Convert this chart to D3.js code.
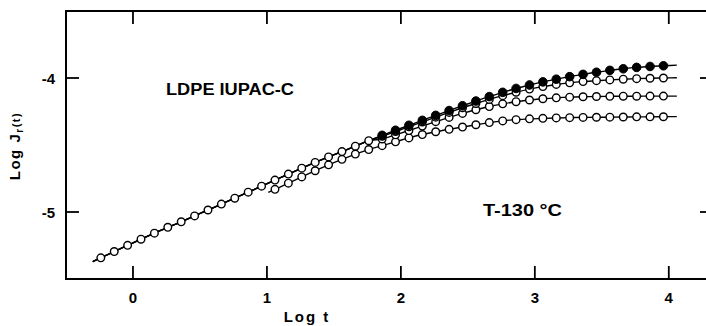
<!DOCTYPE html>
<html>
<head>
<meta charset="utf-8">
<script src="https://cdn.jsdelivr.net/npm/d3@7"></script>
<style>
  html, body { margin: 0; padding: 0; background: #fff; }
  svg { display: block; }
  text { font-family: "Liberation Sans", Arial, sans-serif; font-weight: bold; fill: #000; }
</style>
</head>
<body>
<svg id="chart" width="706" height="326"></svg>
<script>
// Recoverable compliance of LDPE IUPAC-C at 130 °C (log-log)
const xTicks = [0, 1, 2, 3, 4];
const yTicks = [-4, -5];

// shared early branch
const logTCommon = [-0.24, -0.14, -0.04, 0.06, 0.16, 0.26, 0.36, 0.46, 0.56, 0.66, 0.76,
                    0.86, 0.96, 1.06, 1.16, 1.26, 1.36, 1.46, 1.56, 1.66, 1.76];
const logJCommon = [-5.342, -5.295, -5.249, -5.203, -5.158, -5.114, -5.073, -5.029, -4.985, -4.941, -4.897,
                    -4.852, -4.807, -4.762, -4.717, -4.673, -4.630, -4.589, -4.549, -4.509, -4.468];

// late branches
const logTLate = [1.86, 1.96, 2.06, 2.16, 2.26, 2.36, 2.46, 2.56, 2.66, 2.76, 2.86,
                  2.96, 3.06, 3.16, 3.26, 3.36, 3.46, 3.56, 3.66, 3.76, 3.86, 3.96];
const logJA = [-4.428, -4.390, -4.353, -4.316, -4.279, -4.243, -4.207, -4.172, -4.139, -4.107, -4.078,
               -4.052, -4.029, -4.009, -3.990, -3.973, -3.957, -3.943, -3.931, -3.921, -3.914, -3.909];
const logJB = [-4.435, -4.400, -4.364, -4.328, -4.292, -4.257, -4.222, -4.190, -4.160, -4.132, -4.106,
               -4.083, -4.064, -4.048, -4.036, -4.027, -4.020, -4.014, -4.009, -4.005, -4.002, -4.000];
const logJC = [-4.455, -4.424, -4.392, -4.359, -4.326, -4.294, -4.264, -4.237, -4.213, -4.193, -4.177,
               -4.164, -4.155, -4.148, -4.143, -4.140, -4.138, -4.137, -4.136, -4.136, -4.135, -4.135];

// lowest branch, measured separately
const logTD = [1.06, 1.16, 1.26, 1.36, 1.46, 1.56, 1.66, 1.76, 1.86, 1.96, 2.06, 2.16, 2.26, 2.36, 2.46,
               2.56, 2.66, 2.76, 2.86, 2.96, 3.06, 3.16, 3.26, 3.36, 3.46, 3.56, 3.66, 3.76, 3.86, 3.96];
const logJD = [-4.831, -4.785, -4.738, -4.692, -4.648, -4.607, -4.568, -4.534, -4.505, -4.476, -4.447,
               -4.422, -4.401, -4.383, -4.366, -4.349, -4.333, -4.320, -4.311, -4.305, -4.301, -4.298,
               -4.296, -4.294, -4.293, -4.292, -4.291, -4.290, -4.290, -4.289];

const svg = d3.select("#chart");

const x = d3.scaleLinear().domain([-0.5, 4.33]).range([66, 713]);
const y = d3.scaleLinear().domain([-5.5, -3.5]).range([279, 11]);

const zip = (ts, js) => ts.map((t, i) => ({ t, j: js[i] }));
const common = zip(logTCommon, logJCommon);
const seriesA = common.concat(zip(logTLate, logJA));
const seriesB = common.concat(zip(logTLate, logJB));
const seriesC = common.concat(zip(logTLate, logJC));
const seriesD = zip(logTD, logJD);

// extend a curve slightly past its first and last points along the end segments
function extend(pts, lead, trail) {
  const a = pts[0], b = pts[1];
  const n = pts.length, p = pts[n - 2], q = pts[n - 1];
  const s0 = (b.j - a.j) / (b.t - a.t);
  const s1 = (q.j - p.j) / (q.t - p.t);
  return [{ t: a.t - lead, j: a.j - s0 * lead }]
    .concat(pts)
    .concat([{ t: q.t + trail, j: q.j + s1 * trail }]);
}

const line = d3.line().x(d => x(d.t)).y(d => y(d.j)).curve(d3.curveMonotoneX);

const frame = svg.append("g");
// plot frame
frame.append("rect")
  .attr("x", x(-0.5)).attr("y", y(-3.5))
  .attr("width", x(4.33) - x(-0.5)).attr("height", y(-5.5) - y(-3.5))
  .attr("fill", "none").attr("stroke", "#000").attr("stroke-width", 2);

// inward ticks on all four sides
const tickLen = 13;
xTicks.forEach(v => {
  frame.append("line").attr("x1", x(v)).attr("x2", x(v))
    .attr("y1", y(-5.5)).attr("y2", y(-5.5) - tickLen)
    .attr("stroke", "#000").attr("stroke-width", 1.8);
  frame.append("line").attr("x1", x(v)).attr("x2", x(v))
    .attr("y1", y(-3.5)).attr("y2", y(-3.5) + tickLen)
    .attr("stroke", "#000").attr("stroke-width", 1.8);
  frame.append("text").attr("x", x(v)).attr("y", 303)
    .attr("text-anchor", "middle").attr("font-size", 15).text(v);
});
yTicks.forEach(v => {
  frame.append("line").attr("x1", x(-0.5)).attr("x2", x(-0.5) + tickLen)
    .attr("y1", y(v)).attr("y2", y(v))
    .attr("stroke", "#000").attr("stroke-width", 1.8);
  frame.append("line").attr("x1", x(4.33)).attr("x2", x(4.33) - tickLen)
    .attr("y1", y(v)).attr("y2", y(v))
    .attr("stroke", "#000").attr("stroke-width", 1.8);
  frame.append("text").attr("x", 55).attr("y", y(v) + 6)
    .attr("text-anchor", "end").attr("font-size", 15).text(String(v));
});

// axis titles
frame.append("text").attr("x", 307).attr("y", 322)
  .attr("text-anchor", "middle").attr("font-size", 15).attr("letter-spacing", 2)
  .text("Log t");
const yTitle = frame.append("text")
  .attr("transform", "translate(20,146) rotate(-90)")
  .attr("text-anchor", "middle").attr("font-size", 15).attr("letter-spacing", 1.5);
yTitle.append("tspan").text("Log J");
yTitle.append("tspan").attr("font-size", 10).attr("dy", 3).text("r");
yTitle.append("tspan").attr("font-size", 11).attr("dy", -3).text("(t)");

// annotations
frame.append("text").attr("x", 166).attr("y", 95).attr("font-size", 16)
  .attr("textLength", 128).attr("lengthAdjust", "spacingAndGlyphs").text("LDPE IUPAC-C");
frame.append("text").attr("x", 483).attr("y", 216).attr("font-size", 16)
  .attr("textLength", 79).attr("lengthAdjust", "spacingAndGlyphs").text("T-130 °C");

// curves
const curves = svg.append("g").attr("fill", "none").attr("stroke", "#000").attr("stroke-width", 1.4);
[seriesD, seriesC, seriesB, seriesA].forEach(s => {
  const lead = s === seriesD ? 0.05 : 0.06;
  curves.append("path").attr("d", line(extend(s, lead, 0.1)));
});

// markers
const r = 3.8;
function openMarks(data) {
  svg.append("g").selectAll("circle").data(data).join("circle")
    .attr("cx", d => x(d.t)).attr("cy", d => y(d.j)).attr("r", r)
    .attr("fill", "#fff").attr("stroke", "#000").attr("stroke-width", 1.4);
}
openMarks(seriesD);
openMarks(zip(logTLate, logJC));
openMarks(zip(logTLate, logJB));
openMarks(common);
svg.append("g").selectAll("circle").data(zip(logTLate, logJA)).join("circle")
  .attr("cx", d => x(d.t)).attr("cy", d => y(d.j)).attr("r", 4.3)
  .attr("fill", "#000").attr("stroke", "#000").attr("stroke-width", 1);
</script>
</body>
</html>
